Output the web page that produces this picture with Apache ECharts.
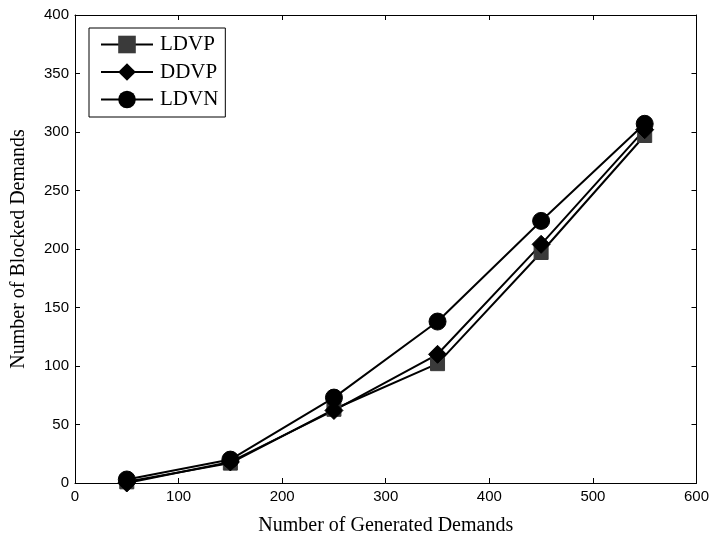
<!DOCTYPE html>
<html><head><meta charset="utf-8">
<script src="https://cdn.jsdelivr.net/npm/echarts@6/dist/echarts.min.js"></script>
<style>html,body{margin:0;padding:0;background:#fff}#c{width:712px;height:541px}</style>
</head><body><div id="c"></div>
<script>
var xValues = [50, 150, 250, 350, 450, 550];
var ldvp = [1, 17, 63, 102, 197, 297];
var ddvp = [0, 18, 62, 110, 204, 302];
var ldvn = [3, 20, 73, 138, 224, 307];
var seriesNames = ['LDVP', 'DDVP', 'LDVN'];

function pairs(v){ return xValues.map(function(x,i){return [x, v[i]];}); }

var chart = echarts.init(document.getElementById('c'));
var serif = '"Liberation Serif","Times New Roman",serif';
var sans = '"Liberation Sans",Arial,sans-serif';
function mk(name, data, symbol, size, color){
  return {name:name, type:'line', data:pairs(data), symbol:symbol, symbolSize:size,
    lineStyle:{color:'#000', width:2}, itemStyle:{color:color, borderColor:color},
    emphasis:{disabled:true}};
}
var tick = {show:true, inside:true, length:5, lineStyle:{color:'#000'}};
var line = {show:true, onZero:false, lineStyle:{color:'#000'}};
chart.setOption({
  animation:false,
  grid:{left:75, right:15, top:15, bottom:56},
  legend:{
    orient:'vertical', left:89, top:28, itemWidth:52, itemHeight:22, itemGap:6.5,
    padding:[6,7,7,11], borderColor:'#000', borderWidth:1,
    textStyle:{fontFamily:serif, fontSize:21, color:'#000', padding:[0,0,0,2]},
    data:seriesNames
  },
  xAxis:[{
    type:'value', min:0, max:600, interval:100,
    name:'Number of Generated Demands', nameLocation:'middle', nameGap:33,
    nameTextStyle:{fontFamily:serif, fontSize:20, color:'#000'},
    axisLine:line, axisTick:tick,
    axisLabel:{fontFamily:sans, fontSize:15, color:'#000', margin:6},
    splitLine:{show:false}
  },{
    type:'value', position:'top', min:0, max:600, interval:100,
    axisLine:line, axisTick:tick,
    axisLabel:{show:false}, splitLine:{show:false}
  }],
  yAxis:[{
    type:'value', min:0, max:400, interval:50,
    name:'Number of Blocked Demands', nameLocation:'middle', nameGap:46,
    nameTextStyle:{fontFamily:serif, fontSize:20, color:'#000'},
    axisLine:line, axisTick:tick,
    axisLabel:{fontFamily:sans, fontSize:15, color:'#000', margin:6},
    splitLine:{show:false}
  },{
    type:'value', position:'right', min:0, max:400, interval:50,
    axisLine:line, axisTick:tick,
    axisLabel:{show:false}, splitLine:{show:false}
  }],
  series:[
    mk('LDVP', ldvp, 'rect', 14, '#3a3a3a'),
    mk('DDVP', ddvp, 'diamond', 18, '#000'),
    mk('LDVN', ldvn, 'circle', 17, '#000')
  ]
});
</script></body></html>
